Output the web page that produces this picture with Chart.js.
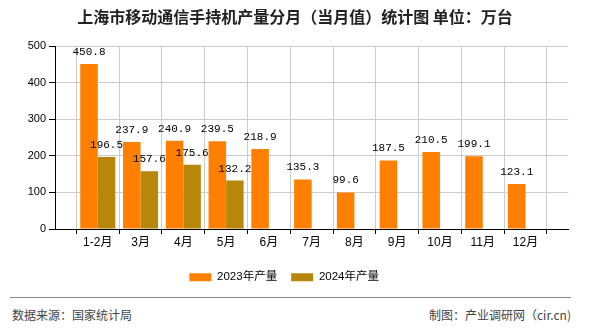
<!DOCTYPE html>
<html>
<head>
<meta charset="utf-8">
<script src="https://cdn.jsdelivr.net/npm/chart.js@4/dist/chart.umd.min.js"></script>
<style>
  body { margin: 0; background: #fff; }
  #wrap { position: relative; width: 590px; height: 330px; font-family: "Noto Sans CJK SC", sans-serif; }
  #title { position: absolute; top: 6px; left: 0; width: 590px; text-align: center; font-size: 16px; line-height: 20px; font-weight: bold; color: #222; }
  #chart { position: absolute; left: 0; top: 0; }
  #rule { position: absolute; left: 10px; width: 561px; top: 297px; border-top: 1px solid #888; }
  .foot { position: absolute; top: 307px; font-size: 12px; line-height: 16px; color: #444; }
</style>
</head>
<body>
<div id="wrap">
  <canvas id="chart" width="590" height="293"></canvas>
  <div id="title">上海市移动通信手持机产量分月（当月值）统计图 单位：万台</div>
  <div id="rule"></div>
  <div class="foot" style="left:12px">数据来源：国家统计局</div>
  <div class="foot" style="right:19px">制图：产业调研网（cir.cn)</div>
</div>
<script>
// values (万台)
const months = ['1-2月', '3月', '4月', '5月', '6月', '7月', '8月', '9月', '10月', '11月', '12月'];
const output2023 = [450.8, 237.9, 240.9, 239.5, 218.9, 135.3, 99.6, 187.5, 210.5, 199.1, 123.1];
const output2024 = [196.5, 157.6, 175.6, 132.2];
const yTicks = [0, 100, 200, 300, 400, 500];

// the axis has an empty slot on each side, months sit on the grid lines
const labels = [''].concat(months, ['']);
const pad = (arr) => {
  const out = [null].concat(arr);
  while (out.length < labels.length) out.push(null);
  return out;
};

Chart.defaults.font.family = "'Liberation Sans', 'Noto Sans CJK SC', sans-serif";
Chart.defaults.color = '#000';

// value labels above each bar
const barLabels = {
  id: 'barLabels',
  afterDatasetsDraw(chart) {
    const ctx = chart.ctx;
    ctx.save();
    ctx.font = '11px "Liberation Mono", monospace';
    ctx.fillStyle = '#000';
    ctx.textAlign = 'center';
    ctx.textBaseline = 'middle';
    chart.data.datasets.forEach((ds, i) => {
      chart.getDatasetMeta(i).data.forEach((bar, j) => {
        const v = ds.data[j];
        if (v == null) return;
        ctx.fillText(v.toFixed(1), bar.x, bar.y - 12);
      });
    });
    ctx.restore();
  }
};

new Chart('chart', {
  type: 'bar',
  data: {
    labels: labels,
    datasets: [
      { label: '2023年产量', data: pad(output2023), backgroundColor: '#ff8000' },
      { label: '2024年产量', data: pad(output2024), backgroundColor: '#b8860b' }
    ]
  },
  options: {
    responsive: false,
    animation: false,
    categoryPercentage: 0.82,
    barPercentage: 1,
    layout: { padding: { top: 46, right: 21.7, bottom: 0, left: 0 } },
    plugins: {
      title: { display: false },
      tooltip: { enabled: false },
      legend: {
        position: 'bottom',
        labels: { boxWidth: 22, boxHeight: 8, padding: 14, font: { size: 11.5 }, color: '#000' }
      }
    },
    scales: {
      x: {
        offset: false,
        grid: { color: '#ccc', tickColor: '#000', tickLength: 5 },
        border: { color: '#000' },
        ticks: { autoSkip: false, maxRotation: 0, padding: 1, font: { size: 12 } },
        afterFit(scale) { scale.height = 28.5; }
      },
      y: {
        min: yTicks[0],
        max: yTicks[yTicks.length - 1],
        grid: { color: '#ccc', tickColor: '#000', tickLength: 6 },
        border: { color: '#000' },
        ticks: { stepSize: 100, padding: 3, font: { size: 11 } },
        afterFit(scale) { scale.width = 55; }
      }
    }
  },
  plugins: [barLabels]
});
</script>
</body>
</html>
